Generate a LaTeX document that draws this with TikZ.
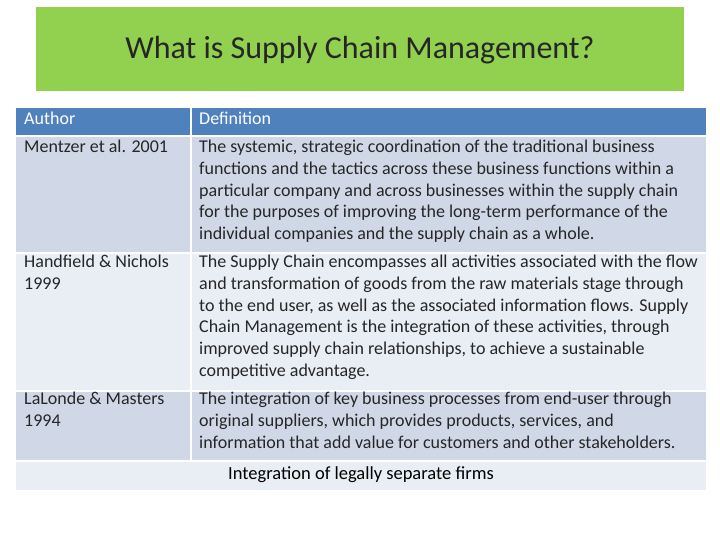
\documentclass[tikz,border=0pt]{standalone}
\usepackage{fontspec}
\setmainfont{Carlito}
\definecolor{hdr}{HTML}{4F81BD}
\definecolor{rowA}{HTML}{D0D8E8}
\definecolor{rowB}{HTML}{E9EDF4}
\definecolor{ttl}{HTML}{92D050}
\begin{document}
\begin{tikzpicture}[x=1pt,y=-1pt,
  cell/.style={anchor=north west,inner sep=0pt,align=left,font=\fontsize{18}{21.7}\selectfont,text=black!85},
  hcell/.style={cell,text=white}]
\useasboundingbox (0,0) rectangle (720,540);
\fill[white] (0,0) rectangle (720,540);
\fill[ttl] (36,7) rectangle (684,91);
\node[font=\fontsize{32}{36}\selectfont,text=black!85] (title) at (360,50) {What is Supply Chain Management?};
% rows
\fill[hdr] (16,108) rectangle (706,135);
\fill[rowA] (16,137) rectangle (706,252);
\fill[rowB] (16,254) rectangle (706,390);
\fill[rowA] (16,392) rectangle (706,460);
\fill[rowB] (16,462) rectangle (706,490);
\draw[white,line width=1.5pt] (191,108) -- (191,460);
\node[hcell] (h1) at (24,112) {Author};
\node[hcell] (h2) at (199,112) {Definition};
\node[cell] (a1) at (24,140) {Mentzer et al. 2001};
\node[cell] (d1) at (199,140) {The systemic, strategic coordination of the traditional business\\functions and the tactics across these business functions within a\\particular company and across businesses within the supply chain\\for the purposes of improving the long-term performance of the\\individual companies and the supply chain as a whole.};
\node[cell] (a2) at (24,255) {Handfield \& Nichols\\1999};
\node[cell] (d2) at (199,255) {The Supply Chain encompasses all activities associated with the flow\\and transformation of goods from the raw materials stage through\\to the end user, as well as the associated information flows. Supply\\Chain Management is the integration of these activities, through\\improved supply chain relationships, to achieve a sustainable\\competitive advantage.};
\node[cell] (a3) at (24,392) {LaLonde \& Masters\\1994};
\node[cell] (d3) at (199,392) {The integration of key business processes from end-user through\\original suppliers, which provides products, services, and\\information that add value for customers and other stakeholders.};
\node[font=\fontsize{18.5}{22}\selectfont,text=black] (foot) at (361,475) {Integration of legally separate firms};
\end{tikzpicture}
\end{document}
